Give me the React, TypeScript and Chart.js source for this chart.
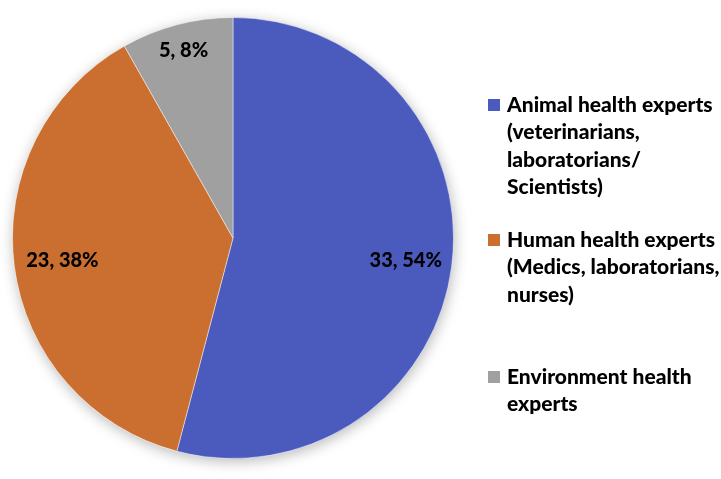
import React, { useEffect, useRef } from "react";
import { Chart, registerables } from "chart.js";

Chart.register(...registerables);

const categories: string[][] = [
  ["Animal health experts", "(veterinarians,", "laboratorians/", "Scientists)"],
  ["Human health experts", "(Medics, laboratorians,", "nurses)"],
  ["Environment health", "experts"],
];
const counts: number[] = [33, 23, 5];
const colors: string[] = ["#4A5ABD", "#CB6F31", "#A0A0A0"];

const FONT = "Lato, 'Open Sans', sans-serif";

const shadowPlugin = {
  id: "pieShadow",
  beforeDatasetsDraw(chart: any) {
    const arc = chart.getDatasetMeta(0).data[0];
    if (!arc) return;
    const { x, y, outerRadius } = arc;
    const ctx = chart.ctx;
    ctx.save();
    ctx.shadowColor = "rgba(0,0,0,0.28)";
    ctx.shadowBlur = 14;
    ctx.shadowOffsetX = 1;
    ctx.shadowOffsetY = 3;
    ctx.fillStyle = "#ffffff";
    ctx.beginPath();
    ctx.arc(x, y, outerRadius, 0, Math.PI * 2);
    ctx.fill();
    ctx.restore();
  },
};

const labelRadius = [0.79, 0.78, 0.88];

const dataLabelPlugin = {
  id: "sliceLabels",
  afterDatasetsDraw(chart: any) {
    const ctx = chart.ctx;
    const meta = chart.getDatasetMeta(0);
    const values: number[] = chart.data.datasets[0].data;
    const total = values.reduce((a, b) => a + b, 0);
    ctx.save();
    ctx.font = `900 20px ${FONT}`;
    ctx.fillStyle = "#000000";
    ctx.textAlign = "center";
    ctx.textBaseline = "middle";
    meta.data.forEach((arc: any, i: number) => {
      const mid = (arc.startAngle + arc.endAngle) / 2;
      const r = arc.outerRadius * labelRadius[i];
      const px = arc.x + Math.cos(mid) * r;
      const py = arc.y + Math.sin(mid) * r;
      const pct = Math.round((values[i] / total) * 100);
      ctx.fillText(`${values[i]}, ${pct}%`, px, py);
    });
    ctx.restore();
  },
};

const legendTops = [105, 240, 377];

const legendPlugin = {
  id: "sideLegend",
  afterDraw(chart: any) {
    const ctx = chart.ctx;
    ctx.save();
    ctx.font = `900 21px ${FONT}`;
    ctx.textAlign = "left";
    ctx.textBaseline = "middle";
    categories.forEach((lines, i) => {
      const y0 = legendTops[i];
      ctx.fillStyle = colors[i];
      ctx.fillRect(488, y0 - 6, 12, 12);
      ctx.fillStyle = "#000000";
      lines.forEach((line, j) => {
        ctx.fillText(line, 507, y0 + j * 27.5);
      });
    });
    ctx.restore();
  },
};

export default function App() {
  const ref = useRef<HTMLCanvasElement | null>(null);
  useEffect(() => {
    if (!ref.current) return;
    const chart = new Chart(ref.current, {
      type: "pie",
      data: {
        labels: categories.map((l) => l.join(" ")),
        datasets: [
          {
            data: counts,
            backgroundColor: colors,
            borderColor: "rgba(255,255,255,0.45)",
            borderWidth: 1,
            hoverOffset: 0,
          },
        ],
      },
      options: {
        responsive: false,
        animation: false,
        layout: { padding: { left: 12, right: 267, top: 17, bottom: 20 } },
        plugins: {
          legend: { display: false },
          tooltip: { enabled: false },
        },
      },
      plugins: [shadowPlugin, dataLabelPlugin, legendPlugin],
    });
    return () => chart.destroy();
  }, []);
  return (
    <div style={{ position: "absolute", left: 0, top: 0, width: 721, height: 479, background: "#fff" }}>
      <canvas ref={ref} width={721} height={479} />
    </div>
  );
}
